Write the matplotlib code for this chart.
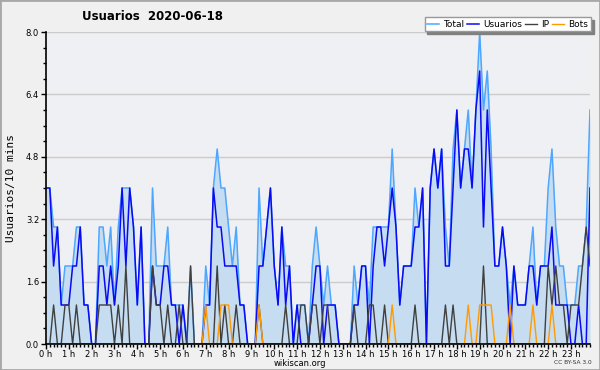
import numpy as np
import matplotlib
matplotlib.use("Agg")
import matplotlib.pyplot as plt
from matplotlib.ticker import MultipleLocator, FixedLocator
from matplotlib.patches import Rectangle

#====================1======================
#         data: one value per 10 minutes
#===========================================
usuarios = [4, 4, 2, 3, 1, 1,   1, 2, 2, 3, 1, 1,   0, 0, 2, 2, 1, 2,
            1, 2, 4, 2, 4, 3,   1, 3, 0, 0, 2, 1,   1, 2, 2, 1, 1, 0,
            1, 0, 0, 0, 0, 0,   1, 1, 4, 3, 3, 2,   2, 2, 2, 1, 1, 0,
            0, 0, 2, 2, 3, 4,   2, 1, 3, 1, 2, 0,   1, 0, 0, 0, 1, 2,
            2, 0, 1, 1, 1, 0,   0, 0, 0, 1, 1, 2,   2, 0, 2, 3, 3, 2,
            3, 4, 3, 1, 2, 2,   2, 3, 3, 4, 0, 4,   5, 4, 5, 2, 2, 4,
            6, 4, 5, 5, 4, 6,   7, 3, 6, 4, 2, 2,   3, 2, 0, 2, 1, 1,
            1, 2, 2, 1, 2, 2,   2, 3, 1, 1, 1, 1,   0, 0, 1, 0, 0, 4]
ip       = [0, 0, 1, 0, 0, 1,   1, 0, 1, 0, 0, 0,   0, 0, 1, 1, 1, 1,
            0, 1, 0, 2, 0, 0,   0, 0, 0, 0, 2, 1,   1, 0, 1, 0, 0, 1,
            0, 0, 2, 0, 0, 0,   0, 0, 0, 2, 0, 1,   0, 0, 1, 0, 0, 0,
            0, 0, 1, 0, 0, 0,   0, 0, 0, 1, 0, 0,   0, 1, 1, 0, 1, 1,
            0, 1, 1, 0, 0, 0,   0, 0, 0, 1, 0, 0,   0, 1, 1, 0, 0, 1,
            0, 0, 0, 0, 0, 0,   0, 1, 0, 0, 0, 0,   0, 0, 0, 1, 0, 1,
            0, 0, 0, 0, 0, 0,   0, 2, 0, 0, 0, 0,   0, 0, 0, 0, 0, 0,
            0, 0, 0, 0, 0, 0,   2, 1, 2, 1, 1, 0,   1, 1, 1, 2, 3, 2]
bots     = [0, 0, 0, 0, 0, 0,   0, 0, 0, 0, 0, 0,   0, 0, 0, 0, 0, 0,
            0, 0, 0, 0, 0, 0,   0, 0, 0, 0, 0, 0,   0, 0, 0, 0, 0, 0,
            0, 0, 0, 0, 0, 0,   1, 0, 0, 0, 1, 1,   1, 0, 0, 0, 0, 0,
            0, 0, 1, 0, 0, 0,   0, 0, 0, 0, 0, 0,   0, 0, 0, 0, 0, 0,
            0, 0, 0, 0, 0, 0,   0, 0, 0, 0, 0, 0,   0, 0, 0, 0, 0, 0,
            0, 1, 0, 0, 0, 0,   0, 0, 0, 0, 0, 0,   0, 0, 0, 0, 0, 0,
            0, 0, 0, 1, 0, 0,   1, 1, 1, 1, 0, 0,   0, 0, 1, 0, 0, 0,
            0, 0, 1, 0, 0, 0,   0, 1, 0, 0, 0, 0,   0, 0, 0, 0, 0, 0]
total    = [4, 4, 3, 3, 1, 2,   2, 2, 3, 3, 1, 1,   0, 0, 3, 3, 2, 3,
            1, 3, 4, 4, 4, 3,   1, 3, 0, 0, 4, 2,   2, 2, 3, 1, 1, 1,
            1, 0, 2, 0, 0, 0,   2, 1, 4, 5, 4, 4,   3, 2, 3, 1, 1, 0,
            0, 0, 4, 2, 3, 4,   2, 1, 3, 2, 2, 0,   1, 1, 1, 0, 2, 3,
            2, 1, 2, 1, 1, 0,   0, 0, 0, 2, 1, 2,   2, 1, 3, 3, 3, 3,
            3, 5, 3, 1, 2, 2,   2, 4, 3, 4, 0, 4,   5, 4, 5, 3, 2, 5,
            6, 4, 5, 6, 4, 6,   8, 6, 7, 5, 2, 2,   3, 2, 1, 2, 1, 1,
            1, 2, 3, 1, 2, 2,   4, 5, 3, 2, 2, 1,   1, 1, 2, 2, 3, 6]
hour_labels = [f"{h} h" for h in range(24)]
y_ticks = [0.0, 1.6, 3.2, 4.8, 6.4, 8.0]

#====================2======================
#                 figure
#===========================================
c_total, c_fill = '#4da6ff', '#c6dcf0'
c_user, c_ip, c_bot = '#0a0af5', '#404040', '#ff9a00'

x = np.arange(len(total))
fig = plt.figure(figsize=(6, 3.7), dpi=100, facecolor='#f0f0f0')
ax = fig.add_axes([46/600, 26/370, 544/600, 312/370])
ax.set_facecolor('#eff0f3')

ax.fill_between(x, 0, total, color=c_fill, lw=0, zorder=1)
ax.plot(x, total, color=c_total, lw=1.1, label='Total', zorder=3)
ax.plot(x, usuarios, color=c_user, lw=1.1, label='Usuarios', zorder=4)
ax.plot(x, ip, color=c_ip, lw=1.0, label='IP', zorder=5)
ax.plot(x, bots, color=c_bot, lw=1.0, label='Bots', zorder=6)

ax.set_xlim(0, len(total) - 1)
ax.set_ylim(0, 8.0)
ax.xaxis.set_major_locator(FixedLocator(np.arange(0, 144, 6)))
ax.set_xticklabels(hour_labels)
ax.xaxis.set_minor_locator(MultipleLocator(1))
ax.set_yticks(y_ticks)
ax.set_yticklabels([f"{v:.1f}" for v in y_ticks])
ax.yaxis.set_minor_locator(MultipleLocator(0.4))
ax.tick_params(axis='both', which='major', direction='out', length=3.5,
               width=1, labelsize=6, colors='black')
ax.tick_params(axis='x', which='major', pad=0.5)
ax.tick_params(axis='y', which='major', pad=1.5)
ax.tick_params(axis='both', which='minor', direction='out', length=2.5, width=1)
ax.yaxis.grid(True, color='#cccccc', lw=1, zorder=0)
ax.set_axisbelow(True)
for s in ['top', 'right']:
    ax.spines[s].set_visible(False)
for s in ['left', 'bottom']:
    ax.spines[s].set_linewidth(1.2)
    ax.spines[s].set_zorder(7)

ax.set_ylabel('Usuarios/10 mins', family='DejaVu Sans Mono', fontsize=8,
              labelpad=7)
fig.text(152/600, 1 - 16/370, 'Usuarios  2020-06-18', ha='center',
         va='center', fontsize=8.5, weight='bold')
fig.text(300/600, 1 - 363/370, 'wikiscan.org', ha='center', va='center',
         fontsize=6)
fig.text(592/600, 1 - 363/370, 'CC BY-SA 3.0', ha='right', va='center',
         fontsize=4.2, color='#333333')

leg = ax.legend(loc='upper right', bbox_to_anchor=(591/600, 1 - 17/370),
                bbox_transform=fig.transFigure, ncol=4, fontsize=6.5,
                frameon=True, fancybox=False, shadow={'color': '#808080', 'alpha': 1},
                borderaxespad=0, handlelength=1.3, handletextpad=0.5,
                columnspacing=0.3, borderpad=0.3)
leg.get_frame().set_edgecolor('#999999')
leg.get_frame().set_facecolor('white')
leg.get_frame().set_linewidth(1)

fig.patches.append(Rectangle((0, 0), 1, 1, transform=fig.transFigure,
                             fill=False, edgecolor='#a8a8a8', lw=2))
fig.savefig('out.png', dpi=100, facecolor=fig.get_facecolor())
